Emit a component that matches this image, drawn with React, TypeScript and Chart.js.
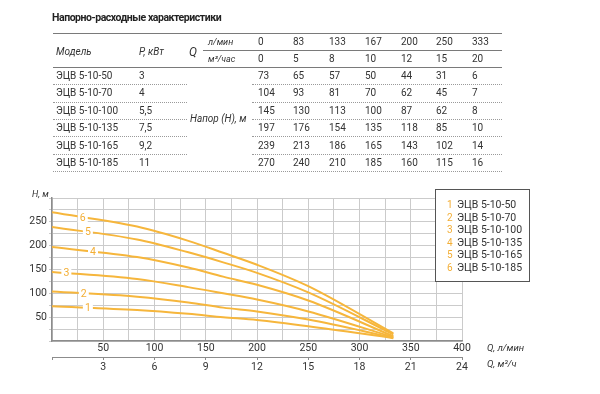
import React, { useEffect, useRef } from "react";
import { Chart, registerables } from "chart.js";

Chart.register(...registerables);

// ---------- data ----------
const models = ["ЭЦВ 5-10-50", "ЭЦВ 5-10-70", "ЭЦВ 5-10-100", "ЭЦВ 5-10-135", "ЭЦВ 5-10-165", "ЭЦВ 5-10-185"];
const powers = ["3", "4", "5,5", "7,5", "9,2", "11"];
const flowLmin = [0, 83, 133, 167, 200, 250, 333];
const flowM3h = [0, 5, 8, 10, 12, 15, 20];
const head50 = [73, 65, 57, 50, 44, 31, 6];
const head70 = [104, 93, 81, 70, 62, 45, 7];
const head100 = [145, 130, 113, 100, 87, 62, 8];
const head135 = [197, 176, 154, 135, 118, 85, 10];
const head165 = [239, 213, 186, 165, 143, 102, 14];
const head185 = [270, 240, 210, 185, 160, 115, 16];
const heads = [head50, head70, head100, head135, head165, head185];
const curveNumbers = ["1", "2", "3", "4", "5", "6"];
const curveLabelQ = [35, 31, 14, 40, 35, 30];

const LINE = "#F6B63C";
const NUM = "#F3AE35";
const TXT = "#333333";
const FONT = "Roboto, 'Noto Sans', sans-serif";

const T = ({ x, y, children, style }: any) => (
  <span
    style={{
      position: "absolute",
      left: x,
      top: y - 7,
      lineHeight: "14px",
      height: 14,
      whiteSpace: "nowrap",
      fontFamily: FONT,
      fontSize: 10,
      color: TXT,
      ...style,
    }}
  >
    {children}
  </span>
);

const HLine = ({ x1, x2, y, style }: any) => (
  <div style={{ position: "absolute", left: x1, top: y, width: x2 - x1, height: 0, ...style }} />
);

const curveLabelPlugin = {
  id: "curveLabels",
  afterDatasetsDraw(chart: any) {
    const ctx = chart.ctx;
    const xs = chart.scales.x;
    const ys = chart.scales.y;
    ctx.save();
    ctx.font = `10.5px ${FONT}`;
    ctx.textAlign = "center";
    ctx.textBaseline = "middle";
    heads.forEach((h, i) => {
      const q = curveLabelQ[i];
      let k = 0;
      while (k < flowLmin.length - 2 && flowLmin[k + 1] < q) k++;
      const t = (q - flowLmin[k]) / (flowLmin[k + 1] - flowLmin[k]);
      const v = h[k] + (h[k + 1] - h[k]) * t;
      const px = xs.getPixelForValue(q);
      const py = ys.getPixelForValue(v);
      ctx.fillStyle = "#ffffff";
      ctx.fillRect(px - 5, py - 5, 10, 10);
      ctx.fillStyle = NUM;
      ctx.fillText(curveNumbers[i], px, py + 0.5);
    });
    ctx.restore();
  },
};

export default function App() {
  const ref = useRef<HTMLCanvasElement | null>(null);

  useEffect(() => {
    if (!ref.current) return;
    const tickFont = { family: FONT, size: 10.5 };
    const chart = new Chart(ref.current, {
      type: "line",
      data: {
        datasets: heads.map((h, i) => ({
          label: models[i],
          data: flowLmin.map((q, j) => ({ x: q, y: h[j] })),
          borderColor: LINE,
          borderWidth: 2,
          pointRadius: 0,
          fill: false,
          cubicInterpolationMode: "monotone" as const,
        })),
      },
      options: {
        animation: false,
        responsive: false,
        maintainAspectRatio: false,
        layout: { padding: { left: 0, top: 198, right: 138, bottom: 17 } },
        plugins: { legend: { display: false }, tooltip: { enabled: false } },
        scales: {
          x: {
            type: "linear",
            position: "bottom",
            min: 0,
            max: 400,
            ticks: {
              stepSize: 25,
              autoSkip: false,
              maxRotation: 0,
              padding: 1,
              color: TXT,
              font: tickFont,
              callback: (v: any) => (v % 50 === 0 && v !== 0 ? String(v) : ""),
            },
            grid: { color: "#cbcbcb", lineWidth: 1, drawTicks: false },
            border: { color: "#8c8c8c", width: 1.5 },
            afterFit: (s: any) => {
              s.height = 16;
            },
          },
          x2: {
            type: "linear",
            position: "bottom",
            min: 0,
            max: 24,
            ticks: {
              stepSize: 3,
              autoSkip: false,
              maxRotation: 0,
              padding: 1,
              color: TXT,
              font: tickFont,
              callback: (v: any) => (v === 0 ? "" : String(v)),
            },
            grid: { drawOnChartArea: false, tickLength: 3, color: "#8c8c8c" },
            border: { color: "#8c8c8c", width: 1 },
            afterFit: (s: any) => {
              s.height = 20;
            },
          },
          y: {
            type: "linear",
            min: 0,
            max: 300,
            ticks: {
              stepSize: 25,
              autoSkip: false,
              padding: 2,
              color: TXT,
              font: tickFont,
              callback: (v: any) => (v % 50 === 0 && v > 0 && v < 300 ? String(v) : ""),
            },
            grid: { color: "#cbcbcb", lineWidth: 1, tickLength: 3 },
            border: { color: "#8c8c8c", width: 1.5 },
            afterFit: (s: any) => {
              s.width = 52;
            },
          },
        },
      },
      plugins: [curveLabelPlugin],
    });
    return () => chart.destroy();
  }, []);

  const colX = [258, 293, 329, 365, 401, 436, 472];
  const rowY = [75.7, 93.3, 110.7, 127.7, 145.7, 162.7];
  const dotY = [84, 101.5, 119, 136, 153.5];
  const legendY = [205, 217.5, 230, 242.5, 255, 267.5];
  const it = { fontStyle: "italic" };
  const thick = { borderTop: "1.5px solid #7a7a7a" };
  const dotted = { borderTop: "1px dotted #9a9a9a" };

  return (
    <div style={{ position: "fixed", left: 0, top: 0, width: 600, height: 394, background: "#fff", overflow: "hidden" }}>
      <canvas ref={ref} width={600} height={394} style={{ position: "absolute", left: 0, top: 0, width: 600, height: 394 }} />

      {/* title */}
      <T x={52} y={18} style={{ fontWeight: 700, fontSize: 10.5, letterSpacing: "-0.45px", color: "#222" }}>
        Напорно-расходные характеристики
      </T>

      {/* table lines */}
      <HLine x1={53} x2={502} y={32.5} style={thick} />
      <HLine x1={203} x2={502} y={50} style={thick} />
      <HLine x1={53} x2={502} y={66.5} style={thick} />
      {dotY.map((y, i) => (
        <React.Fragment key={i}>
          <HLine x1={53} x2={187} y={y} style={dotted} />
          <HLine x1={252} x2={502} y={y} style={dotted} />
        </React.Fragment>
      ))}
      <HLine x1={53} x2={502} y={171} style={dotted} />

      {/* table header */}
      <T x={56} y={52} style={it}>Модель</T>
      <T x={139} y={52} style={it}>P, кВт</T>
      <T x={189} y={52} style={{ ...it, fontSize: 12 }}>Q</T>
      <T x={208} y={42} style={{ ...it, fontSize: 9 }}>л/мин</T>
      <T x={208} y={59} style={{ ...it, fontSize: 9 }}>м³/час</T>
      {flowLmin.map((v, i) => (
        <T key={"l" + i} x={colX[i]} y={42}>{v}</T>
      ))}
      {flowM3h.map((v, i) => (
        <T key={"m" + i} x={colX[i]} y={59}>{v}</T>
      ))}
      <T x={190} y={119} style={it}>Напор (Н), м</T>
      {models.map((m, r) => (
        <React.Fragment key={"r" + r}>
          <T x={56} y={rowY[r]}>{m}</T>
          <T x={139} y={rowY[r]}>{powers[r]}</T>
          {heads[r].map((v, c) => (
            <T key={c} x={colX[c]} y={rowY[r]}>{v}</T>
          ))}
        </React.Fragment>
      ))}

      {/* axis titles */}
      <T x={32} y={194} style={{ ...it, fontSize: 9 }}>H, м</T>
      <T x={487} y={348} style={{ ...it, fontSize: 9.5 }}>Q, л/мин</T>
      <T x={487} y={364} style={{ ...it, fontSize: 9.5 }}>Q, м³/ч</T>

      {/* legend */}
      <div
        style={{
          position: "absolute",
          left: 435,
          top: 189,
          width: 93,
          height: 91,
          border: "1.5px solid #555",
          background: "#fff",
        }}
      />
      {models.map((m, i) => (
        <React.Fragment key={"lg" + i}>
          <T x={447} y={legendY[i]} style={{ color: NUM }}>{curveNumbers[i]}</T>
          <T x={457} y={legendY[i]} style={{ fontSize: 10.5 }}>{m}</T>
        </React.Fragment>
      ))}
    </div>
  );
}
